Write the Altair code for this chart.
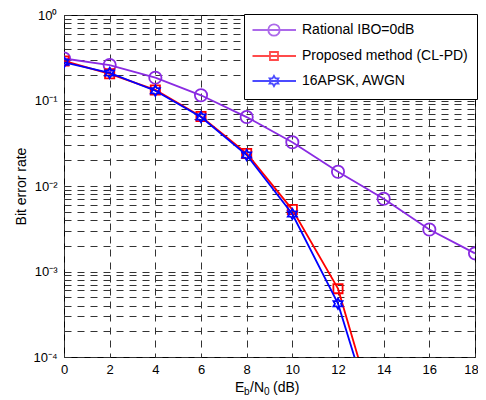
import altair as alt
import pandas as pd

# ---- data ----
ebn0 = [0, 2, 4, 6, 8, 10, 12, 14, 16, 18]
ber_rational = [0.31, 0.26, 0.185, 0.115, 0.064, 0.0325, 0.0147, 0.0071, 0.0031, 0.00163]
ebn0_pd = [0, 2, 4, 6, 8, 10, 12, 14]
ber_proposed = [0.29, 0.205, 0.133, 0.065, 0.024, 0.0053, 0.00063, 0.0000095]
ber_awgn = [0.28, 0.21, 0.13, 0.064, 0.023, 0.0047, 0.00042, 0.0000078]

series_names = ["Rational IBO=0dB", "Proposed method (CL-PD)", "16APSK, AWGN"]
series_colors = ["#8a2be2", "#ff0000", "#0000ff"]

x_ticks = [0, 2, 4, 6, 8, 10, 12, 14, 16, 18]
decades = [1e-4, 1e-3, 1e-2, 1e-1, 1.0]
decade_labels = ["10\u207b\u2074", "10\u207b\u00b3", "10\u207b\u00b2", "10\u207b\u00b9", "10\u2070"]

FONT = "Liberation Sans"

rows = []
for x, v in zip(ebn0, ber_rational):
    rows.append({"x": x, "ber": v, "series": series_names[0]})
for x, v in zip(ebn0_pd, ber_proposed):
    rows.append({"x": x, "ber": v, "series": series_names[1]})
for x, v in zip(ebn0_pd, ber_awgn):
    rows.append({"x": x, "ber": v, "series": series_names[2]})
df = pd.DataFrame(rows)

# y tick values: all minor log ticks
y_values = []
for e in range(-4, 0):
    for k in range(1, 10):
        y_values.append(round(k * 10 ** e, 10))
y_values.append(1.0)

label_expr = "''"
for val, lab in zip(decades, decade_labels):
    label_expr = f"abs(datum.value - {val}) < {val}*1e-6 ? '{lab}' : " + label_expr

x_enc = alt.X("x:Q", scale=alt.Scale(domain=[0, 18], nice=False),
              axis=alt.Axis(values=x_ticks, title=None, grid=True, domain=False,
                            tickSize=0, labelPadding=6, labelFontSize=13, labelFont=FONT,
                            labelColor="#000", gridDash=[7, 6], gridColor="#333", gridWidth=1,
                            labelFlush=False,
                            labelOffset=alt.ExprRef(expr="datum.value == 18 ? -4 : 0")))
y_enc = alt.Y("ber:Q", scale=alt.Scale(type="log", domain=[1e-4, 1], nice=False),
              axis=alt.Axis(values=y_values, labelExpr=label_expr, title="Bit error rate",
                            titleFontSize=14, titleFont=FONT, titleFontWeight="normal",
                            titleX=-36, titleY=171, titleColor="#000",
                            grid=True, domain=False, tickSize=0, labelPadding=7,
                            labelFontSize=13, labelFont=FONT, labelColor="#000",
                            gridDash=[7, 6], gridColor="#333", gridWidth=1, labelFlush=False))

hexagram = ("M0,-1L0.289,-0.5L0.866,-0.5L0.577,0L0.866,0.5L0.289,0.5L0,1L-0.289,0.5"
            "L-0.866,0.5L-0.577,0L-0.866,-0.5L-0.289,-0.5Z")
point_shapes = ["circle", "square", hexagram]
point_sizes = [150, 85, 110]

layers = []
for name, col, shp, sz in zip(series_names, series_colors, point_shapes, point_sizes):
    base = alt.Chart(df).transform_filter(alt.datum.series == name)
    layers.append(base.mark_line(color=col, strokeWidth=1.8, clip=True).encode(x=x_enc, y=y_enc))
    layers.append(base.mark_point(shape=shp, size=sz, filled=False, color=col,
                                  strokeWidth=1.8, clip=True, opacity=1).encode(x=x_enc, y=y_enc))

# legend symbols: line + marker (units of 6 px, symbol size 144)
dx = 2.33
leg_circle = f"M-1.25,0H6M{dx-0.95},0A0.95,0.95 0 1,1 {dx+0.95},0A0.95,0.95 0 1,1 {dx-0.95},0Z"
leg_square = f"M-1.25,0H6M{dx-0.67},-0.67H{dx+0.67}V0.67H{dx-0.67}Z"
hx = [(0, -1), (0.289, -0.5), (0.866, -0.5), (0.577, 0), (0.866, 0.5), (0.289, 0.5), (0, 1),
      (-0.289, 0.5), (-0.866, 0.5), (-0.577, 0), (-0.866, -0.5), (-0.289, -0.5)]
leg_hex = "M-1.25,0H6M" + "L".join(f"{dx + 0.85*a:.3f},{0.85*b:.3f}" for a, b in hx) + "Z"
legend_shapes = [leg_circle, leg_square, leg_hex]

legend_layer = alt.Chart(df).transform_filter("datum.x < -100").mark_point(
    filled=False, strokeWidth=1.8).encode(
    x=x_enc, y=y_enc,
    stroke=alt.Stroke("series:N", scale=alt.Scale(domain=series_names, range=series_colors),
                      legend=alt.Legend(title=None, orient="none", legendX=180, legendY=-1,
                                        padding=9, fillColor="white", strokeColor="black",
                                        labelFontSize=14, labelFont=FONT, labelColor="#000",
                                        symbolSize=144, symbolStrokeWidth=1.8,
                                        labelOffset=35, rowPadding=8, labelLimit=400,
                                        symbolFillColor="transparent")),
    shape=alt.Shape("series:N", scale=alt.Scale(domain=series_names, range=legend_shapes)),
)
layers.append(legend_layer)

# x axis title with subscripts, built from text pieces
title_parts = [("E", 171, 377, 14), ("b", 180, 380, 10), ("/N", 186, 377, 14),
               ("0", 200, 380, 10), ("(dB)", 209, 377, 14)]
one = pd.DataFrame({"a": [0]})
for txt, px, py, fs in title_parts:
    layers.append(alt.Chart(one).mark_text(text=txt, align="left", baseline="alphabetic",
                                           fontSize=fs, font=FONT, color="#000").encode(
        x=alt.value(px), y=alt.value(py)))

chart = alt.layer(*layers).properties(
    width=411, height=342,
    autosize=alt.AutoSizeParams(type="none"),
    padding={"left": 56, "top": 7, "right": 3, "bottom": 42},
    background="white",
).configure_view(stroke="black", strokeWidth=1)

chart.save("out.html", embed_options={"renderer": "svg", "actions": False})
